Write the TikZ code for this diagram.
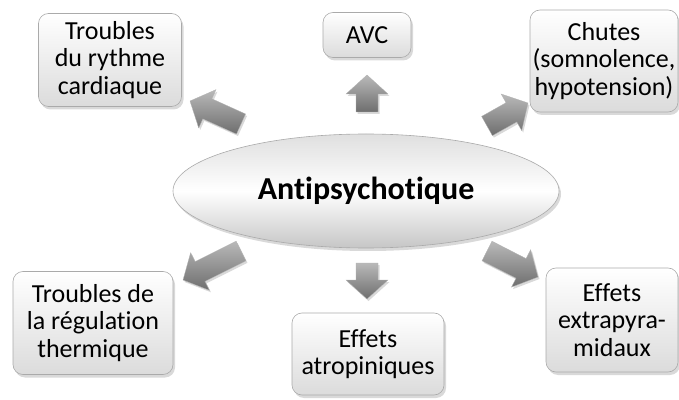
\documentclass[tikz,border=0pt]{standalone}
\usepackage{fontspec}
\setmainfont{Carlito}[Ligatures=NoCommon]
\tikzset{>=latex}
\usetikzlibrary{calc}
\usetikzlibrary{shapes.geometric}
\usetikzlibrary{shadows}
\definecolor{bord}{RGB}{170,170,170}
\definecolor{flechefonce}{RGB}{110,110,110}
\definecolor{flecheclair}{RGB}{185,185,185}

\tikzset{
  effet/.style={rounded corners=10pt, draw=bord, line width=0.6pt,
    top color=white, bottom color=gray!28, align=center, inner sep=0pt,
    font=\fontsize{26}{27.5}\selectfont,
    drop shadow={opacity=0.3, shadow xshift=2pt, shadow yshift=-3pt}},
  centre/.style={ellipse, draw=bord, line width=0.6pt,
    top color=gray!25, bottom color=gray!45, middle color=white,
    font=\fontsize{32}{36}\selectfont\bfseries, inner sep=0pt,
    drop shadow={opacity=0.3, shadow xshift=2pt, shadow yshift=-3pt}},
  flechestyle/.style={top color=flecheclair, bottom color=flechefonce,
    draw=gray!60, line width=0.3pt,
    drop shadow={opacity=0.3, shadow xshift=1.5pt, shadow yshift=-2pt}}
}

% bloc fleche de #1 vers #2
\newcommand\fleche[2]{%
  \path let \p1=($(#2)-(#1)$) in
    \pgfextra{\pgfmathsetmacro\angfl{atan2(\y1,\x1)}\xdef\angfl{\angfl}%
      \pgfmathsetmacro\lenfl{veclen(\x1,\y1)}\xdef\lenfl{\lenfl}};
  \begin{scope}[shift={(#1)}, rotate=\angfl]
    \path[flechestyle] (0,-11) -- (\lenfl-19,-11) -- (\lenfl-19,-21)
      -- (\lenfl,0) -- (\lenfl-19,21) -- (\lenfl-19,11) -- (0,11) -- cycle;
  \end{scope}}

\begin{document}
\begin{tikzpicture}[x=1pt, y=1pt]
  \useasboundingbox (0,0) rectangle (679,399);

  \node[centre, minimum width=386pt, minimum height=114pt] (antipsy) at (366,208) {Antipsychotique};

  \node[effet, minimum width=143pt, minimum height=93pt] (rythme) at (110,339) {Troubles\\du rythme\\cardiaque};
  \node[effet, minimum width=88pt, minimum height=45pt] (avc) at (367,364) {AVC};
  \node[effet, minimum width=148pt, minimum height=102pt] (chutes) at (604,338) {Chutes\\(somnolence,\\hypotension)};
  \node[effet, minimum width=160pt, minimum height=103pt] (thermique) at (93,76) {Troubles de\\la régulation\\thermique};
  \node[effet, minimum width=152pt, minimum height=82pt] (atropin) at (368,45) {Effets\\atropiniques};
  \node[effet, minimum width=132pt, minimum height=104pt] (extrapyr) at (612,79) {Effets\\extrapyra-\\midaux};

  % extremites des fleches
  \coordinate (qavc) at (367,287);
  \coordinate (pavc) at (367,324);
  \coordinate (qatr) at (367,136);
  \coordinate (patr) at (367,100);
  \coordinate (qryt) at (241,275);
  \coordinate (pryt) at (190,298);
  \coordinate (qchu) at (487,273);
  \coordinate (pchu) at (528,296);
  \coordinate (qthe) at (241,148);
  \coordinate (pthe) at (183,119);
  \coordinate (qext) at (487,148);
  \coordinate (pext) at (538,122);

  \fleche{qavc}{pavc}
  \fleche{qatr}{patr}
  \fleche{qryt}{pryt}
  \fleche{qchu}{pchu}
  \fleche{qthe}{pthe}
  \fleche{qext}{pext}
\end{tikzpicture}
\end{document}
